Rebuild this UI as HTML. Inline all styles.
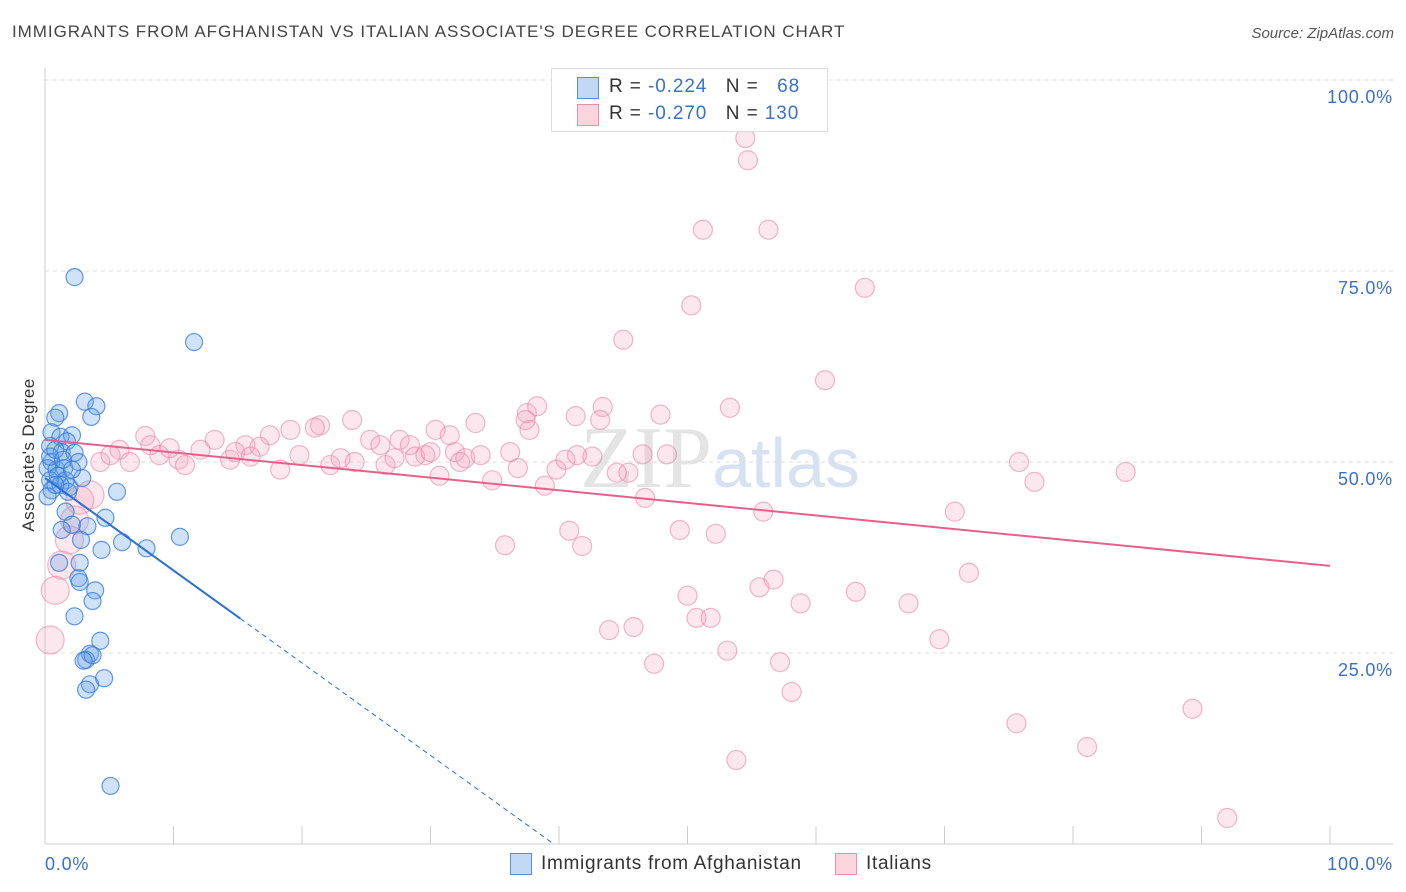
<!DOCTYPE html>
<html><head><meta charset="utf-8"><style>
body{margin:0;background:#fff;font-family:"Liberation Sans",sans-serif;}
#wrap{position:relative;width:1406px;height:892px;overflow:hidden;}
.t{position:absolute;white-space:nowrap;}
</style></head><body>
<div id="wrap">
<div class="t" style="left:12px;top:22px;font-size:17px;color:#444;letter-spacing:0.95px;">IMMIGRANTS FROM AFGHANISTAN VS ITALIAN ASSOCIATE'S DEGREE CORRELATION CHART</div>
<div class="t" style="right:12px;top:25px;font-size:15px;color:#555;font-style:italic;">Source: ZipAtlas.com</div>
<svg id="plot" width="1406" height="892" style="position:absolute;left:0;top:0">
<text x="720" y="487" text-anchor="middle" font-size="88" font-family="Liberation Serif" fill="#e4e4e4">ZIP<tspan font-family="Liberation Sans" font-size="70" fill="#d6e2f2">atlas</tspan></text>
<text transform="translate(34,455) rotate(-90)" text-anchor="middle" font-size="17" fill="#333" letter-spacing="0.4">Associate's Degree</text>
<g id="grid"></g><g id="pink"></g><g id="blue"></g><g id="lines"></g>
</svg>
<div style="position:absolute;left:551px;top:68px;width:275px;height:62px;border:1px solid #ddd;background:#fff;font-size:19px;color:#333;letter-spacing:0.9px;">
 <div style="position:absolute;left:25px;top:8px;width:20px;height:20px;background:rgba(100,160,230,0.4);border:1px solid #5a90d8;"></div>
 <div class="t" style="left:57px;top:7px;">R = <span style="color:#3a70c8">-0.224</span>&nbsp;&nbsp;&nbsp;N = &nbsp;&nbsp;<span style="color:#3a70c8">68</span></div>
 <div style="position:absolute;left:25px;top:35px;width:20px;height:20px;background:rgba(245,160,185,0.45);border:1px solid #e890aa;"></div>
 <div class="t" style="left:57px;top:34px;">R = <span style="color:#3a70c8">-0.270</span>&nbsp;&nbsp;&nbsp;N = <span style="color:#3a70c8">130</span></div>
</div>
<div style="position:absolute;left:510px;top:853px;width:20px;height:20px;background:rgba(100,160,230,0.4);border:1px solid #5a90d8;"></div>
<div class="t" style="left:541px;top:853px;font-size:19px;color:#333;letter-spacing:0.7px;">Immigrants from Afghanistan</div>
<div style="position:absolute;left:835px;top:853px;width:20px;height:20px;background:rgba(245,160,185,0.45);border:1px solid #e890aa;"></div>
<div class="t" style="left:866px;top:853px;font-size:19px;color:#333;letter-spacing:0.7px;">Italians</div>
</div>
<script>
const yTicks=[100,75,50,25];
const yTickLabels=["100.0%","75.0%","50.0%","25.0%"];
const xTicks=[0,10,20,30,40,50,60,70,80,90,100];
const blueData=[[2.3,74.2],[11.6,65.7],[3.1,57.9],[4.0,57.3],[3.6,55.9],[1.1,56.4],[0.8,55.8],[0.5,53.9],[1.2,53.3],[2.1,53.5],[1.7,52.7],[0.4,52.1],[1.3,51.3],[2.3,51.2],[2.6,50.0],[0.5,50.0],[0.2,49.2],[0.9,49.0],[1.5,49.2],[1.0,48.2],[0.4,47.6],[1.6,47.6],[1.9,46.7],[0.5,46.3],[0.2,45.5],[1.2,47.0],[2.9,47.9],[5.6,46.1],[1.6,43.5],[4.7,42.7],[2.1,41.8],[1.3,41.1],[3.3,41.6],[6.0,39.5],[7.9,38.7],[10.5,40.2],[2.8,39.8],[4.4,38.5],[1.1,36.8],[2.7,36.8],[2.6,34.8],[2.7,34.3],[3.9,33.2],[3.7,31.8],[2.3,29.8],[4.3,26.6],[3.5,24.9],[3.2,24.1],[3.7,24.7],[3.0,24.0],[4.6,21.7],[3.5,20.9],[3.2,20.2],[5.1,7.6],[0.4,50.7],[0.8,51.6],[1.8,46.1],[0.8,47.0],[1.4,50.3],[2.1,49.0]];
const pinkData=[[54.5,92.4],[54.7,89.5],[51.2,80.4],[56.3,80.4],[63.8,72.8],[50.3,70.5],[45.0,66.0],[60.7,60.7],[53.3,57.1],[37.5,56.4],[38.3,57.3],[43.4,57.2],[47.9,56.2],[41.3,56.0],[33.5,55.1],[23.9,55.5],[21.4,54.8],[21.0,54.5],[19.1,54.2],[17.5,53.5],[15.6,52.2],[13.2,52.9],[12.1,51.6],[7.8,53.4],[8.2,52.2],[8.9,50.9],[10.4,50.3],[10.9,49.6],[14.4,50.3],[16.7,52.0],[18.3,49.0],[19.8,50.9],[22.2,49.6],[23.0,50.5],[25.3,52.9],[26.1,52.2],[26.5,49.6],[27.6,52.9],[28.4,52.2],[28.8,50.7],[29.6,50.9],[30.4,54.2],[31.5,53.5],[31.9,51.3],[32.7,50.5],[33.9,50.9],[34.8,47.6],[36.2,51.3],[36.8,49.2],[37.7,54.2],[38.9,46.9],[39.8,49.0],[40.5,50.3],[41.4,50.9],[42.6,50.7],[44.5,48.6],[45.4,48.6],[46.7,45.3],[46.5,51.0],[48.4,51.0],[49.4,41.1],[52.2,40.6],[55.9,43.5],[40.8,41.0],[41.8,39.0],[35.8,39.1],[50.0,32.5],[50.7,29.6],[51.8,29.6],[53.1,25.3],[55.6,33.6],[56.7,34.6],[58.8,31.5],[63.1,33.0],[67.2,31.5],[71.9,35.5],[70.8,43.5],[69.6,26.8],[75.8,50.0],[77.0,47.4],[84.1,48.7],[43.9,28.0],[45.8,28.4],[47.4,23.6],[57.2,23.8],[58.1,19.9],[53.8,11.0],[75.6,15.8],[81.1,12.7],[89.3,17.7],[92.0,3.4],[5.8,51.6],[4.3,50.0],[5.1,50.9],[3.5,45.7],[2.7,45.0],[2.3,42.4],[1.9,39.8],[1.3,36.5],[0.8,33.2],[0.4,26.7],[6.6,50.0],[9.7,51.8],[14.8,51.3],[16.0,50.7],[24.1,50.0],[27.2,50.5],[30.0,51.3],[32.3,50.0],[30.7,48.2],[37.4,55.5],[43.2,55.5]];
const pinkTrend=[52.9,36.4];
const blueTrend=[47.9,-1.21];
const blueSolidEnd=15.2;

const NS="http://www.w3.org/2000/svg";
const xs=v=>45+v*12.85, ys=v=>844-v*7.64;
function mk(p,tag,at){const e=document.createElementNS(NS,tag);for(const k in at)e.setAttribute(k,at[k]);p.appendChild(e);return e;}
const grid=document.getElementById('grid');
yTicks.forEach((t,i)=>{
 const l=mk(grid,'line',{x1:45,x2:1393,y1:ys(t),y2:ys(t),stroke:'#ddd','stroke-dasharray':'4,4'});
 
 
 const tx=mk(grid,'text',{x:1393,y:ys(t)+23,'text-anchor':'end','font-size':18,fill:'#3a70c8','letter-spacing':0.8});
 tx.textContent=yTickLabels[i];
 
 
});
const ax=mk(grid,'line',{x1:45,x2:1393,y1:844,y2:844,stroke:'#ccc'});


const ay=mk(grid,'line',{x1:45,x2:45,y1:68,y2:844,stroke:'#ccc'});


xTicks.forEach(t=>{const l=mk(grid,'line',{x1:xs(t),x2:xs(t),y1:826,y2:844,stroke:'#ccc'});
 
 });
[['0.0%',45,'start'],['100.0%',1393,'end']].forEach(a=>{const tx=mk(grid,'text',{x:a[1],y:870,'text-anchor':a[2],'font-size':18,fill:'#3a70c8','letter-spacing':0.8});tx.textContent=a[0];
 
 });
const pg=document.getElementById('pink');
pinkData.forEach(d=>{const c=mk(pg,'circle',{cx:xs(d[0]),cy:ys(d[1]),r:d[0]<4?14:9.5,fill:'rgba(245,160,188,0.25)',stroke:'rgba(232,135,165,0.6)','stroke-width':1.2});
 
 });
const bg=document.getElementById('blue');
blueData.forEach(d=>{const c=mk(bg,'circle',{cx:xs(d[0]),cy:ys(d[1]),r:8.5,fill:'rgba(100,160,230,0.3)',stroke:'rgba(50,120,215,0.75)','stroke-width':1.2});
 
 });
const lg=document.getElementById('lines');
const pl=mk(lg,'line',{x1:xs(0),y1:ys(pinkTrend[0]),x2:xs(100),y2:ys(pinkTrend[1]),stroke:'#e8608a','stroke-width':2});


const bz=-blueTrend[0]/blueTrend[1];
const bl=mk(lg,'line',{x1:xs(0),y1:ys(blueTrend[0]),x2:xs(blueSolidEnd),y2:ys(blueTrend[0]+blueTrend[1]*blueSolidEnd),stroke:'#2a70d8','stroke-width':2});


const bd=mk(lg,'line',{x1:xs(blueSolidEnd),y1:ys(blueTrend[0]+blueTrend[1]*blueSolidEnd),x2:xs(bz),y2:ys(0),stroke:'#2a70d8','stroke-width':1,'stroke-dasharray':'5,4'});


</script>
</body></html>
